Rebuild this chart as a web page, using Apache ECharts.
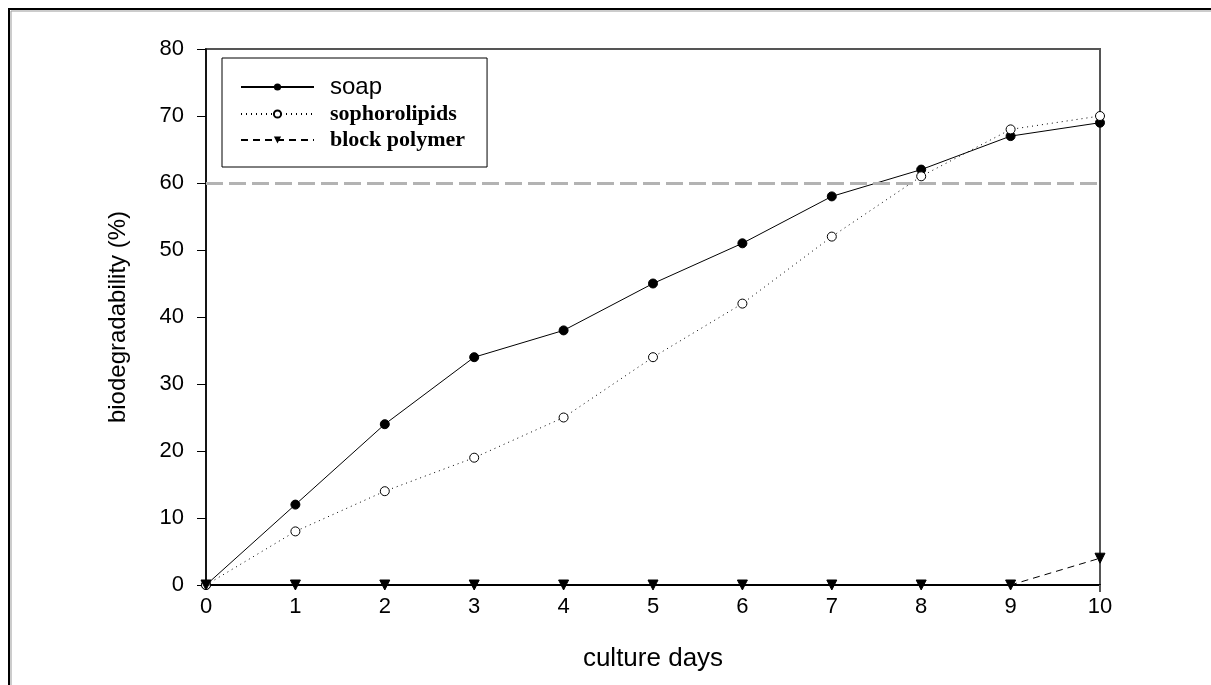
<!DOCTYPE html>
<html>
<head>
<meta charset="utf-8">
<script src="https://cdn.jsdelivr.net/npm/echarts@6/dist/echarts.min.js"></script>
<style>html,body{margin:0;padding:0;background:#fff}#c{width:1211px;height:685px}</style>
</head>
<body>
<div id="c"></div>
<script>
var days = ['0','1','2','3','4','5','6','7','8','9','10'];
var soap = [0, 12, 24, 34, 38, 45, 51, 58, 62, 67, 69];
var sophorolipids = [0, 8, 14, 19, 25, 34, 42, 52, 61, 68, 70];
var blockPolymer = [0, 0, 0, 0, 0, 0, 0, 0, 0, 0, 4];
var threshold = 60;
var yTicks = {min: 0, max: 80, interval: 10};

var chart = echarts.init(document.getElementById('c'));
chart.setOption({
  animation: false,
  backgroundColor: '#fff',
  graphic: [
    {type: 'polyline', shape: {points: [[9, 685], [9, 9], [1211, 9]]}, style: {stroke: '#000', lineWidth: 2, fill: null}},
    {type: 'polyline', shape: {points: [[11, 685], [11, 11], [1211, 11]]}, style: {stroke: '#999', lineWidth: 1, fill: null}}
  ],
  grid: {left: 206, right: 111, top: 49, bottom: 100, show: true, borderColor: '#555', borderWidth: 2, backgroundColor: 'transparent'},
  legend: {
    orient: 'vertical', left: 222, top: 58,
    borderColor: '#000', borderWidth: 1, padding: [17, 22, 16, 18],
    itemWidth: 73, itemHeight: 9, itemGap: 4,
    data: ['soap', 'sophorolipids', 'block polymer'],
    formatter: function (n) { return n === 'soap' ? '{s|' + n + '}' : '{t|' + n + '}'; },
    textStyle: {
      padding: [0, 0, 0, 11],
      rich: {
        s: {fontFamily: 'Liberation Sans', fontSize: 24, color: '#000', lineHeight: 20},
        t: {fontFamily: 'Liberation Serif', fontSize: 22, fontWeight: 'bold', color: '#000', lineHeight: 20}
      }
    }
  },
  xAxis: {
    type: 'category', data: days, boundaryGap: false,
    name: 'culture days', nameLocation: 'middle', nameGap: 61,
    nameTextStyle: {fontFamily: 'Liberation Sans', fontSize: 26, color: '#000'},
    axisLine: {lineStyle: {color: '#000', width: 2}},
    axisTick: {show: true, length: 7, interval: function (i) { return i === days.length - 1; }, lineStyle: {color: '#555', width: 2}},
    axisLabel: {margin: 11, fontFamily: 'Liberation Sans Narrow, Liberation Sans', fontSize: 22, color: '#000'},
    splitLine: {show: false}
  },
  yAxis: {
    type: 'value', min: yTicks.min, max: yTicks.max, interval: yTicks.interval,
    name: 'biodegradability (%)', nameLocation: 'middle', nameGap: 76,
    nameTextStyle: {fontFamily: 'Liberation Sans', fontSize: 24, color: '#000'},
    axisLine: {show: true, lineStyle: {color: '#000', width: 1.5}},
    axisTick: {show: true, length: 9, lineStyle: {color: '#000', width: 1}},
    axisLabel: {margin: 22, fontFamily: 'Liberation Sans', fontSize: 22, color: '#000'},
    splitLine: {show: false}
  },
  series: [
    {
      name: 'soap', type: 'line', data: soap,
      symbol: 'circle', symbolSize: 9,
      lineStyle: {color: '#000', width: 1, type: 'solid'},
      itemStyle: {color: '#000', borderColor: '#000'},
      z: 3,
      markLine: {
        silent: true, symbol: 'none', label: {show: false},
        lineStyle: {color: '#b3b3b3', width: 3, type: [17, 6]},
        data: [{yAxis: threshold}]
      }
    },
    {
      name: 'sophorolipids', type: 'line', data: sophorolipids,
      symbol: 'circle', symbolSize: 9,
      lineStyle: {color: '#000', width: 1, type: [1, 4]},
      itemStyle: {color: '#fff', borderColor: '#000', borderWidth: 1},
      z: 4
    },
    {
      name: 'block polymer', type: 'line', data: blockPolymer,
      symbol: 'triangle', symbolRotate: 180, symbolSize: 10,
      lineStyle: {color: '#000', width: 1, type: [7, 5]},
      itemStyle: {color: '#000', borderColor: '#000'},
      z: 5
    }
  ]
});
</script>
</body>
</html>
